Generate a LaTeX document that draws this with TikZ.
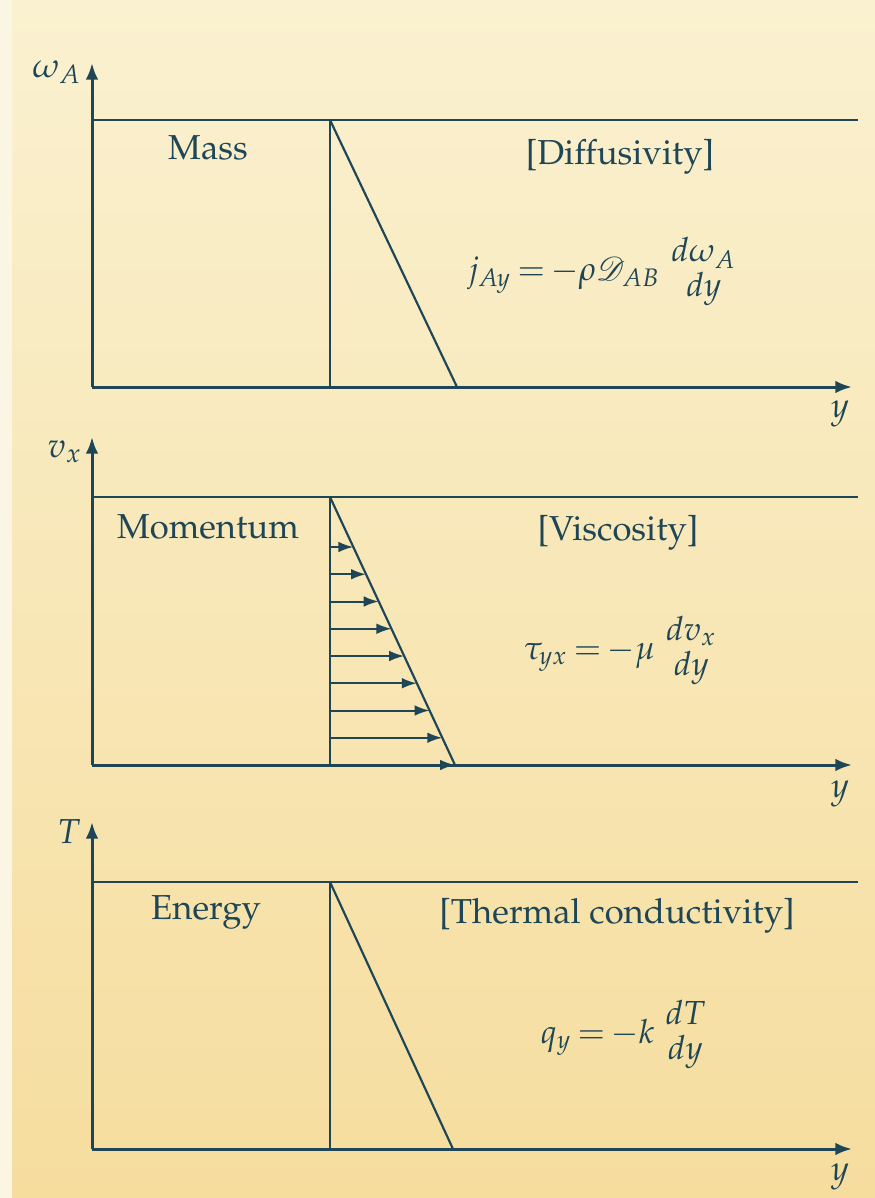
\documentclass[tikz,border=0pt]{standalone}
\usepackage[T1]{fontenc}
\usepackage{mathpazo}
\usepackage{mathrsfs}
\usepackage{amsmath}
\usetikzlibrary{arrows.meta,calc}
\definecolor{ink}{RGB}{30,70,86}
\definecolor{bgtop}{RGB}{250,241,208}
\definecolor{bgbot}{RGB}{246,221,158}
\definecolor{strip}{RGB}{251,246,228}
\newcommand{\mystack}[2]{{\renewcommand{\arraystretch}{0.85}\begin{array}{@{}c@{}}#1\\#2\end{array}}}
\tikzset{
  axis/.style={draw=ink,line width=0.9pt,-{Latex[length=5pt,width=3.8pt]}},
  plainline/.style={draw=ink,line width=0.85pt},
  thinline/.style={draw=ink,line width=0.65pt},
  vel/.style={draw=ink,line width=0.6pt,-{Latex[length=4.5pt,width=3.2pt]}},
  lbl/.style={text=ink,inner sep=0pt,font=\fontsize{10.4}{12}\selectfont},
  eqn/.style={text=ink,inner sep=0pt,anchor=west,font=\fontsize{10}{12}\selectfont},
}
\begin{document}
\thickmuskip=3mu\relax
\begin{tikzpicture}[x=0.3pt,y=-0.3pt]
\useasboundingbox (0,0) rectangle (875,1198);
\shade[top color=bgtop,bottom color=bgbot] (0,0) rectangle (875,1198);
\fill[strip] (0,0) rectangle (12,1198);

% ---------- Panel 1: Mass ----------
\coordinate (o1) at (92,387);
\coordinate (a1) at (92,63);
\coordinate (e1) at (852,387);
\coordinate (l1) at (92,120);
\coordinate (r1) at (858,120);
\coordinate (t1) at (330,120);
\coordinate (v1) at (330,387);
\coordinate (d1) at (457,387);
\draw[axis] (o1) -- (a1);
\draw[axis] (o1) -- (e1);
\draw[plainline] (l1) -- (r1);
\draw[thinline] (t1) -- (v1);
\draw[thinline] (t1) -- (d1);
\node[lbl] (ya1) at (57,72) {$\omega_A$};
\node[lbl] (y1) at (840,414) {$y$};
\node[lbl] (mass) at (208,148) {Mass};
\node[lbl] (diff) at (620,157) {[Diffusivity]};
\node[eqn] (eq1) at (467,272) {$j_{Ay} = -\rho\mathscr{D}_{AB}\;\,\mystack{d\omega_A}{dy}$};

% ---------- Panel 2: Momentum ----------
\coordinate (o2) at (92,765);
\coordinate (a2) at (92,437);
\coordinate (e2) at (852,765);
\coordinate (l2) at (92,497);
\coordinate (r2) at (858,497);
\coordinate (t2) at (330,497);
\coordinate (v2) at (330,765);
\coordinate (d2) at (455,765);
\draw[axis] (o2) -- (a2);
\draw[axis] (o2) -- (e2);
\draw[plainline] (l2) -- (r2);
\draw[thinline] (t2) -- (v2);
\draw[thinline] (t2) -- (d2);
\foreach \i in {1,...,9}{
  \pgfmathsetmacro{\f}{(50+27.25*(\i-1))/268}
  \coordinate (p\i) at ($(t2)!\f!(d2)$);
  \draw[vel] (t2 |- p\i) -- (p\i);
}
\node[lbl] (ya2) at (65,452) {$v_x$};
\node[lbl] (y2) at (840,794) {$y$};
\node[lbl] (mom) at (208,527) {Momentum};
\node[lbl] (visc) at (618,533) {[Viscosity]};
\node[eqn] (eq2) at (523,651) {$\tau_{yx} = -\mu\;\,\mystack{dv_x}{dy}$};

% ---------- Panel 3: Energy ----------
\coordinate (o3) at (92,1149);
\coordinate (a3) at (92,822);
\coordinate (e3) at (852,1149);
\coordinate (l3) at (92,882);
\coordinate (r3) at (858,882);
\coordinate (t3) at (330,882);
\coordinate (v3) at (330,1149);
\coordinate (d3) at (453,1149);
\draw[axis] (o3) -- (a3);
\draw[axis] (o3) -- (e3);
\draw[plainline] (l3) -- (r3);
\draw[thinline] (t3) -- (v3);
\draw[thinline] (t3) -- (d3);
\node[lbl] (ya3) at (69,832) {$T$};
\node[lbl] (y3) at (840,1177) {$y$};
\node[lbl] (ene) at (206,912) {Energy};
\node[lbl] (cond) at (617,916) {[Thermal conductivity]};
\node[eqn] (eq3) at (540,1035) {$q_y = -k\;\,\mystack{dT}{dy}$};
\end{tikzpicture}
\end{document}
